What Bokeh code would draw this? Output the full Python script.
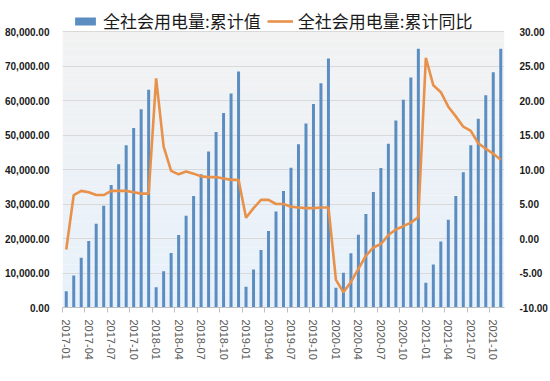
from bokeh.plotting import figure
from bokeh.models import (Range1d, LinearAxis, FixedTicker, NumeralTickFormatter,
                          Legend, LegendItem, BoxAnnotation, ColumnDataSource)
from bokeh.embed import file_html
from bokeh.resources import INLINE

# ---------------- data ----------------
months = [f"{y}-{m:02d}" for y in range(2017, 2022) for m in range(1, 13)][:59]

cum_value = [
    4700, 9300, 14400, 19300, 24300, 29500, 35500, 41500, 47000, 52000, 57500, 63100,
    5900, 10500, 15800, 21000, 26600, 32300, 38600, 45200, 50900, 56400, 62000, 68400,
    6000, 11000, 16700, 22200, 27800, 33800, 40500, 47300, 53300, 59000, 65000, 72200,
    5700, 10100, 15700, 21100, 27100, 33500, 40400, 47500, 54200, 60200, 66700, 75000,
    7200, 12500, 19100, 25400, 32300, 39200, 47000, 54700, 61500, 68200, 75000,
]

cum_yoy = [
    -1.6, 6.3, 6.9, 6.7, 6.3, 6.3, 6.9, 6.9, 6.9, 6.7, 6.5, 6.5,
    23.2, 13.3, 9.8, 9.3, 9.7, 9.4, 9.0, 8.9, 8.9, 8.7, 8.5, 8.5,
    3.0, 4.4, 5.6, 5.6, 5.0, 5.0, 4.6, 4.5, 4.4, 4.4, 4.5, 4.5,
    -6.0, -7.8, -6.3, -4.4, -2.5, -1.3, -0.8, 0.5, 1.3, 1.8, 2.3, 3.1,
    26.2, 22.2, 21.2, 19.1, 17.7, 16.2, 15.6, 13.8, 13.0, 12.3, 11.4,
]

left_min, left_max, left_step = 0, 80000, 10000
right_min, right_max, right_step = -10, 30, 5
label_every = 3
series_names = ["全社会用电量:累计值", "全社会用电量:累计同比"]

idx = list(range(len(months)))
src = ColumnDataSource(dict(x=idx, cum=cum_value, yoy=cum_yoy, m=months))

# ---------------- geometry ----------------
W, H = 550, 381
frame_top, frame_bottom = 3, 307      # frame extended upward to host the legend
axis_top = 31                          # screen y of the 80,000 / 30 line
ratio = (frame_bottom - frame_top) / (frame_bottom - axis_top)
left_end = left_min + (left_max - left_min) * ratio
right_end = right_min + (right_max - right_min) * ratio

p = figure(width=W, height=H, output_backend="svg", toolbar_location=None,
           x_range=Range1d(-0.5, len(months) - 0.5), y_range=Range1d(left_min, left_end),
           min_border_left=62, min_border_right=W - 505, min_border_top=frame_top,
           min_border_bottom=H - frame_bottom)
p.extra_y_ranges = {"pct": Range1d(right_min, right_end)}
p.outline_line_color = None
p.background_fill_color = None
p.border_fill_color = "white"

# gradient plot background (grey top -> light blue bottom)
nb = 32
top_c = (242, 242, 242)
bot_c = (231, 241, 251)
for k in range(nb):
    t = (k + 0.5) / nb
    c = tuple(int(round(bot_c[i] + (top_c[i] - bot_c[i]) * t)) for i in range(3))
    p.add_layout(BoxAnnotation(bottom=left_max * k / nb, top=left_max * (k + 1) / nb,
                               fill_color="#%02x%02x%02x" % c, fill_alpha=1,
                               line_color=None, level="image"))

bars = p.vbar(x="x", top="cum", width=0.4, source=src, fill_color="#5b8dc1",
              line_color=None)
line = p.line(x="x", y="yoy", source=src, y_range_name="pct",
              line_color="#e8914a", line_width=2.6)

left_ticks = list(range(left_min, left_max + 1, left_step))
right_ticks = list(range(right_min, right_max + 1, right_step))

# grid
p.xgrid.grid_line_color = None
p.ygrid.grid_line_color = "#d9d9d9"
p.ygrid.ticker = FixedTicker(ticks=left_ticks)

# left axis
ya = p.yaxis[0]
ya.ticker = FixedTicker(ticks=left_ticks)
ya.formatter = NumeralTickFormatter(format="0,0.00")
ya.axis_line_color = None
ya.major_tick_line_color = None
ya.minor_tick_line_color = None
ya.major_label_standoff = 7
ya.major_label_text_font = "Liberation Sans"
ya.major_label_text_font_style = "bold"
ya.major_label_text_font_size = "10px"
ya.major_label_text_color = "#1a1a1a"

# right axis
ra = LinearAxis(y_range_name="pct", ticker=FixedTicker(ticks=right_ticks),
                formatter=NumeralTickFormatter(format="0.00"))
ra.axis_line_color = None
ra.major_tick_line_color = None
ra.minor_tick_line_color = None
ra.major_label_standoff = 9
ra.major_label_text_font = "Liberation Sans"
ra.major_label_text_font_style = "bold"
ra.major_label_text_font_size = "10px"
ra.major_label_text_color = "#1a1a1a"
p.add_layout(ra, "right")

# x axis
xa = p.xaxis[0]
lab_ticks = list(range(0, len(months), label_every))
xa.ticker = FixedTicker(ticks=lab_ticks,
                        minor_ticks=[t - 0.5 for t in range(0, len(months) + 1, label_every)])
xa.major_label_overrides = {t: months[t] for t in lab_ticks}
xa.major_label_orientation = "vertical"
xa.major_tick_line_color = None
xa.major_tick_out = 0
xa.major_tick_in = 0
xa.minor_tick_line_color = "#bfbfbf"
xa.minor_tick_out = 5
xa.minor_tick_in = 0
xa.axis_line_color = "#bfbfbf"
xa.major_label_standoff = 7
xa.major_label_text_font = "Liberation Sans"
xa.major_label_text_font_size = "11px"
xa.major_label_text_color = "#595959"

# legend (in the white strip at the top of the frame)
legend = Legend(items=[LegendItem(label=series_names[0], renderers=[bars]),
                       LegendItem(label=series_names[1], renderers=[line])],
                orientation="horizontal",
                location=(10, frame_bottom - axis_top - 2),
                label_text_font="Noto Sans CJK SC", label_text_font_size="17px",
                label_text_color="#1a1a1a", glyph_width=26, glyph_height=10,
                label_standoff=5, spacing=6, padding=0, margin=0,
                border_line_color=None, background_fill_alpha=0)
p.add_layout(legend)

open("out.html", "w").write(file_html(p, INLINE))
